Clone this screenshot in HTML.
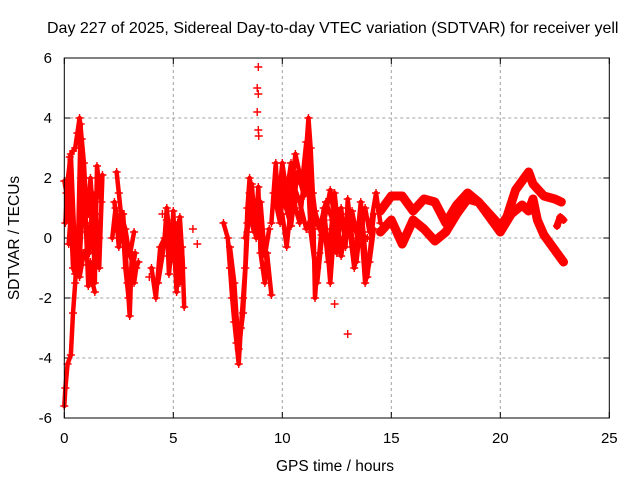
<!DOCTYPE html>
<html><head><meta charset="utf-8"><style>
html,body{margin:0;padding:0;background:#fff;}
svg{display:block;font-family:"Liberation Sans",sans-serif;}
</style></head><body>
<svg id="chart" width="640" height="480" viewBox="0 0 640 480">
<text x="47" y="33" font-size="16">Day 227 of 2025, Sidereal Day-to-day VTEC variation (SDTVAR) for receiver yell</text>
<text x="335" y="471" font-size="15.5" text-anchor="middle">GPS time / hours</text>
<text x="0" y="0" font-size="15.5" text-anchor="middle" transform="translate(19,238) rotate(-90)">SDTVAR / TECUs</text>
<g id="grid"></g>
<g id="ticks"></g>
<g id="marks"></g>
<rect x="64.3" y="58" width="545" height="360" fill="none" stroke="#000" stroke-width="1"/>
</svg>
<script>
const xTicks=[0,5,10,15,20,25];
const yTicks=[-6,-4,-2,0,2,4,6];
const ribbonA_t=[14.5,15.0,15.5,16.0,16.5,17.0,17.5,18.0,18.5,19.0,19.5,20.0,20.3,20.7,21.0,21.3,21.5,22.0,22.5,22.8];
const ribbonA_v=[0.9,1.4,1.4,0.9,1.3,1.2,0.5,1.1,1.5,1.2,0.8,0.4,0.7,1.6,1.9,2.2,1.8,1.4,1.3,1.2];
const ribbonB_t=[14.5,15.0,15.5,16.0,16.5,17.0,17.5,18.0,18.5,19.0,19.5,20.0,20.5,21.0,21.3,21.5,21.7,22.0,22.5,22.9];
const ribbonB_v=[0.2,0.6,-0.2,0.6,0.3,-0.1,0.2,0.8,1.3,1.2,0.7,0.2,0.8,1.1,0.9,1.3,0.6,0.1,-0.4,-0.8];
const ribbonC_t=[22.6,22.75,22.9];
const ribbonC_v=[0.4,0.7,0.6];
const tracks_t=[
[0,0.05,0.15,0.3,0.4,0.5,0.55,0.6,0.7,0.8,0.9,1.0,1.2,1.4,1.6],
[0,0.1,0.2,0.25,0.4,0.5,0.6,0.7,0.8,0.9,1.0,1.1,1.2,1.3,1.4,1.5,1.6,1.7],
[0.2,0.3,0.4,0.5,0.7,0.9,1.0,1.1,1.2,1.3,1.4],
[0.05,0.15,0.3,0.45,0.6,0.75,0.85,1.0,1.15,1.3,1.45,1.6,1.75],
[2.3,2.4,2.5,2.6,2.7,2.8,2.9,3.0,3.1,3.2,3.3,3.4],
[2.4,2.5,2.6,2.8,3.0,3.2],
[2.2,2.35,2.5,2.65,2.8,2.95,3.1,3.25],
[4.0,4.2,4.4,4.6,4.7,4.9,5.0,5.1,5.2,5.3,5.4,5.5],
[4.3,4.5,4.7,4.8,5.0,5.15,5.3,5.45],
[7.3,7.5,7.6,7.7,7.8,7.9,8.0,8.1,8.2,8.3,8.4,8.5,8.6,8.8,8.9,9.0,9.1,9.2,9.3,9.5],
[8.3,8.4,8.5,8.6,8.7],
[7.6,7.8,8.0,8.2,8.4,8.6,8.8,9.0,9.2,9.4],
[9.5,9.7,9.8,10.0,10.2,10.4,10.6,10.8,11.0,11.2,11.3,11.4,11.5,11.6,11.7,11.9,12.0,12.2,12.4,12.5,12.7,12.9,13.0,13.2,13.4,13.6,13.8,14.0,14.2],
[10.0,10.2,10.5,10.8,11.1,11.4,11.7,12.0,12.3,12.6,12.9,13.2,13.5,13.8,14.0,14.3,14.5],
[9.6,9.9,10.1,10.3,10.6,10.9,11.1,11.3,11.6,11.9,12.1,12.4,12.7,13.0,13.3,13.6,13.9,14.2],
[9.8,10.1,10.4,10.7,11.0,11.25,11.5,11.8,12.2,12.6,13.1,13.5,13.9]
];
const tracks_v=[
[-5.6,-5.0,-4.2,-3.9,-2.5,-1.5,-0.8,-1.0,-1.3,-0.9,-0.5,-0.4,-0.3,-0.2,0.0],
[1.9,1.5,0.6,2.7,2.9,3.0,3.5,4.0,3.3,2.5,1.2,0.8,2.0,1.0,-1.5,2.4,1.8,1.2],
[-0.2,0.8,-1.0,-1.2,-0.8,2.0,0.2,-1.6,-0.8,-1.5,-1.8],
[0.5,1.9,2.8,0.2,-1.2,3.8,1.5,0.5,-0.5,1.5,0.8,-1.0,2.1],
[1.2,0.5,0.2,0.9,0.8,-0.3,-1.5,-2.6,-0.5,-1.5,-1.0,-0.8],
[2.2,1.5,0.8,0.3,-0.6,0.2],
[0.0,1.0,-0.3,0.8,-1.0,-2.0,-1.2,-0.5],
[-1.0,-2.0,-0.3,0.0,1.0,-0.5,0.9,-0.8,0.5,-1.5,-0.3,-2.3],
[-1.5,-0.6,0.6,-1.2,0.2,-1.8,0.7,-1.0],
[0.5,0.0,-1.0,-2.0,-2.8,-3.5,-4.2,-3.0,-2.0,-1.0,1.0,2.0,1.3,0.6,1.7,-0.5,-1.0,-1.5,-0.5,-1.9],
[0.0,0.5,1.5,0.5,0.2],
[-0.3,-1.5,-3.7,-2.5,0.2,1.8,0.0,1.2,-0.6,0.3],
[0.5,2.5,1.0,2.5,1.5,2.5,1.0,0.5,2.0,4.0,3.0,1.5,-2.0,-1.0,-0.5,1.0,0.3,-1.5,0.5,-0.5,1.0,-0.3,1.3,0.0,-0.8,0.5,-1.5,-0.8,0.3],
[0.8,-0.3,1.8,1.2,0.3,0.8,0.3,1.2,0.6,0.9,0.0,0.9,-0.2,1.0,0.2,1.5,0.5],
[1.5,0.5,2.0,0.8,2.8,1.8,3.2,0.2,-1.5,0.6,-0.8,1.5,-0.6,0.8,-1.0,1.2,-1.3,0.8],
[2.0,1.2,0.4,2.2,1.4,2.4,0.9,0.1,1.6,-0.3,0.5,0.1,0.0]
];
const scatter_t=[8.9,8.85,8.9,8.85,8.9,8.92,13.0,4.5,12.4,3.9,5.9,6.1];
const scatter_v=[5.7,5.0,4.8,4.2,3.6,3.4,-3.2,0.8,-2.2,-1.3,0.3,-0.2];

const NS='http://www.w3.org/2000/svg';
const X0=64.3,PX=21.8,Y0=238,PY=30;
function sx(t){return X0+t*PX;}
function sy(v){return Y0-v*PY;}
const grid=document.getElementById('grid'),ticks=document.getElementById('ticks'),marks=document.getElementById('marks');
function mk(tag,attrs,parent){const e=document.createElementNS(NS,tag);for(const k in attrs)e.setAttribute(k,attrs[k]);parent.appendChild(e);return e;}
xTicks.forEach(t=>{
  const x=sx(t);
  if(t>0&&t<25){const g=mk('line',{x1:x,x2:x,y1:58,y2:418,stroke:'#a0a0a0','stroke-dasharray':'3,3'},grid);
  
  }
  mk('line',{x1:x,x2:x,y1:418,y2:412,stroke:'#000'},ticks);
  mk('line',{x1:x,x2:x,y1:58,y2:64,stroke:'#000'},ticks);
  const l=mk('text',{x:x,y:443,'font-size':15,'text-anchor':'middle'},ticks);l.textContent=t;
  
  
});
yTicks.forEach(v=>{
  const y=sy(v);
  if(v>-6&&v<6){const g=mk('line',{x1:64.3,x2:609.3,y1:y,y2:y,stroke:'#a0a0a0','stroke-dasharray':'3,3'},grid);
  
  }
  mk('line',{x1:64.3,x2:70.3,y1:y,y2:y,stroke:'#000'},ticks);
  mk('line',{x1:609.3,x2:603.3,y1:y,y2:y,stroke:'#000'},ticks);
  const l=mk('text',{x:52,y:y+5,'font-size':15,'text-anchor':'end'},ticks);l.textContent=v;
  
  
});
function plus(t,v,parent){
  const x=sx(t),y=sy(v);
  const p=mk('path',{d:`M${x-4},${y}h8M${x},${y-4}v8`,stroke:'#f00','stroke-width':1.4,fill:'none'},parent);
  
  
}
function track(ts,vs,w,name){
  const g=mk('g',{},marks);
  
  
  mk('polyline',{points:ts.map((t,i)=>sx(t)+','+sy(vs[i])).join(' '),fill:'none',stroke:'#f00','stroke-width':w,'stroke-linejoin':'round','stroke-linecap':'round'},g);
  ts.forEach((t,i)=>plus(t,vs[i],g));
}
tracks_t.forEach((ts,i)=>track(ts,tracks_v[i],4.5,'sdtvar-track'));
track(ribbonA_t,ribbonA_v,9,'sdtvar-ribbon-upper');
track(ribbonB_t,ribbonB_v,9,'sdtvar-ribbon-lower');
track(ribbonC_t,ribbonC_v,7,'sdtvar-ribbon-end');
const sg=mk('g',{},marks);


scatter_t.forEach((t,i)=>plus(t,scatter_v[i],sg));
</script>
</body></html>
